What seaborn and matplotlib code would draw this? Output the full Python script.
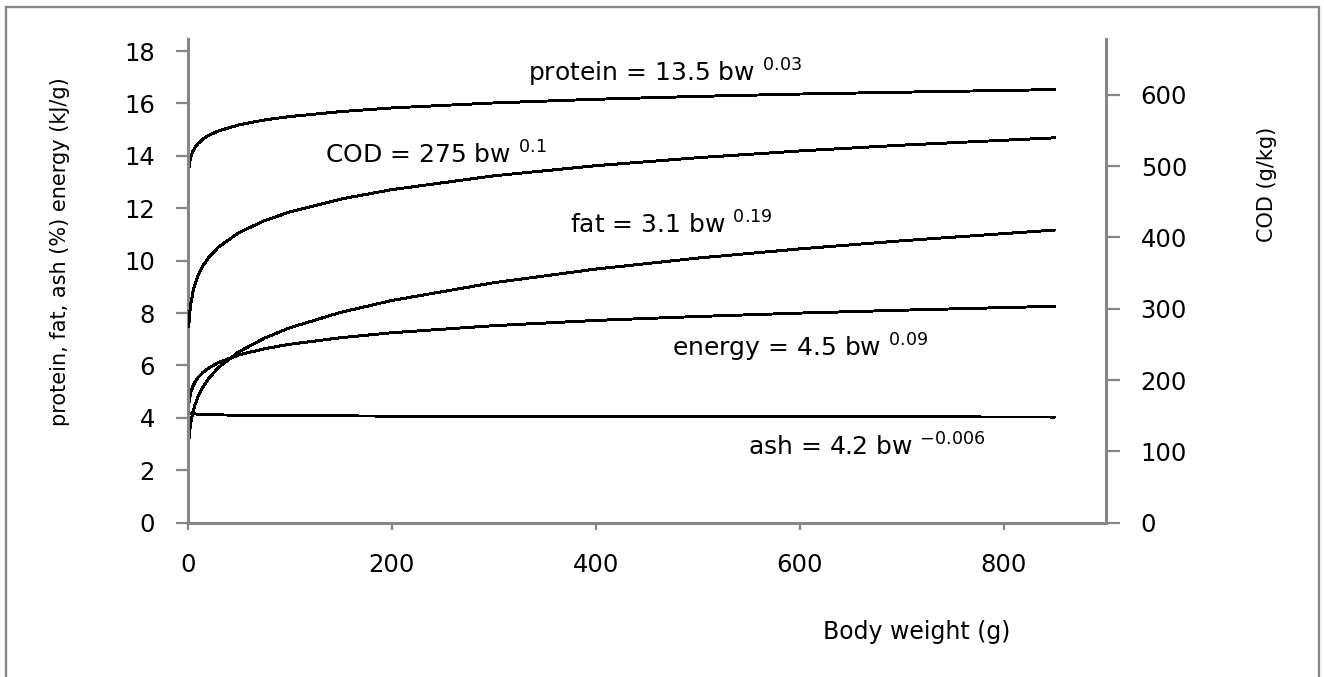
import matplotlib
matplotlib.use("Agg")
import matplotlib.pyplot as plt
from matplotlib.patches import Rectangle
import numpy as np
import pandas as pd
import seaborn as sns

# Body weight (g) at which the composition curves are tabulated
body_weight = [1, 2, 3, 5, 7, 10, 15, 20, 30, 50, 75, 100, 150, 200,
               300, 400, 500, 600, 700, 850]

# protein (%), fat (%), energy (kJ/g), ash (%) -- left axis
protein = [13.50, 13.78, 13.95, 14.17, 14.31, 14.47, 14.64, 14.77, 14.95, 15.18,
           15.37, 15.50, 15.69, 15.83, 16.02, 16.16, 16.27, 16.36, 16.43, 16.53]
fat = [3.10, 3.54, 3.82, 4.21, 4.49, 4.80, 5.19, 5.48, 5.92, 6.52,
       7.04, 7.44, 8.03, 8.48, 9.16, 9.68, 10.10, 10.45, 10.76, 11.17]
energy = [4.50, 4.79, 4.97, 5.20, 5.36, 5.54, 5.74, 5.89, 6.11, 6.40,
          6.64, 6.81, 7.06, 7.25, 7.52, 7.72, 7.87, 8.00, 8.11, 8.26]
ash = [4.200, 4.183, 4.172, 4.160, 4.151, 4.142, 4.132, 4.125, 4.115, 4.103,
       4.093, 4.086, 4.076, 4.069, 4.059, 4.052, 4.046, 4.042, 4.038, 4.033]

# COD (g/kg) -- right axis
cod = [275.0, 294.7, 306.9, 323.0, 334.1, 346.2, 360.5, 371.1, 386.4, 406.7,
       423.5, 435.8, 453.9, 467.1, 486.5, 500.7, 511.9, 521.4, 529.5, 539.8]

x_ticks = [0, 200, 400, 600, 800]
left_ticks = [0, 2, 4, 6, 8, 10, 12, 14, 16, 18]
right_ticks = [0, 100, 200, 300, 400, 500, 600]

# Fitted allometric equations written next to each curve
eq_text = [
    r"protein = 13.5 bw $^{0.03}$",
    r"COD = 275 bw $^{0.1}$",
    r"fat = 3.1 bw $^{0.19}$",
    r"energy = 4.5 bw $^{0.09}$",
    r"ash = 4.2 bw $^{-0.006}$",
]
# (x, baseline y) of each equation, in left-axis data units
eq_pos = [(468, 16.82), (243, 13.71), (474, 11.04), (600, 6.33), (666, 2.58)]

sns.set_style("white")
plt.rcParams["font.family"] = ["DejaVu Sans"]
plt.rcParams["mathtext.default"] = "regular"
plt.rcParams["text.color"] = "black"
plt.rcParams["axes.labelcolor"] = "black"

GREY = "#868686"

left_df = pd.DataFrame({
    "bw": body_weight * 4,
    "value": protein + fat + energy + ash,
    "component": (["protein"] * len(body_weight) + ["fat"] * len(body_weight)
                  + ["energy"] * len(body_weight) + ["ash"] * len(body_weight)),
})
cod_df = pd.DataFrame({"bw": body_weight, "cod": cod})

fig = plt.figure(figsize=(13.24, 6.77), dpi=100)
ax = fig.add_axes([0.1418, 0.2279, 0.6935, 0.7141])

sns.lineplot(data=left_df, x="bw", y="value", hue="component",
             palette=["black"] * 4, legend=False, ax=ax,
             linewidth=1.4, antialiased=False, estimator=None, sort=False)

ax2 = ax.twinx()
sns.lineplot(data=cod_df, x="bw", y="cod", color="black", ax=ax2,
             linewidth=1.4, antialiased=False, estimator=None, sort=False)

ax.set_xlim(0, 900)
ax.set_ylim(0, 18.45)
ax2.set_ylim(0, 678)
ax.set_xticks(x_ticks)
ax.set_yticks(left_ticks)
ax2.set_yticks(right_ticks)

for a in (ax, ax2):
    a.set_facecolor("none")
    for s in a.spines.values():
        s.set_visible(False)
    a.grid(False)

ax.spines["left"].set_visible(True)
ax.spines["bottom"].set_visible(True)
ax2.spines["right"].set_visible(True)
for a, side in ((ax, "left"), (ax, "bottom"), (ax2, "right")):
    a.spines[side].set_color(GREY)
    a.spines[side].set_linewidth(2.2)

ax.tick_params(axis="y", which="major", direction="out", length=8.6, width=1.6,
               color=GREY, pad=15, labelsize=17.5, labelcolor="black", left=True)
ax.tick_params(axis="x", which="major", direction="out", length=5, width=1.6,
               color=GREY, pad=17, labelsize=17.5, labelcolor="black", bottom=True)
ax2.tick_params(axis="y", which="major", direction="out", length=10, width=1.6,
                color=GREY, pad=15, labelsize=17.5, labelcolor="black", right=True)

ax.set_xlabel("Body weight (g)", fontsize=17, va="center", color="black")
ax.xaxis.set_label_coords(0.794, -0.226)
ax.set_ylabel("protein, fat, ash (%) energy (kJ/g)", fontsize=15,
              va="center", color="black")
ax.yaxis.set_label_coords(-0.139, 0.56)
ax2.set_ylabel("COD (g/kg)", fontsize=15, va="center", rotation=90,
               color="black")
ax2.yaxis.set_label_coords(1.175, 0.699)

for txt, (xp, yp) in zip(eq_text, eq_pos):
    ax.text(xp, yp, txt, fontsize=18, ha="center", va="baseline",
            color="black", zorder=5)

# Chart-area frame
fig.patches.append(Rectangle((6 / 1324, -0.02), 1313 / 1324, 1 - 7 / 677 + 0.02,
                             transform=fig.transFigure, fill=False,
                             edgecolor=GREY, linewidth=1.7))

fig.savefig("out.png", dpi=100)
